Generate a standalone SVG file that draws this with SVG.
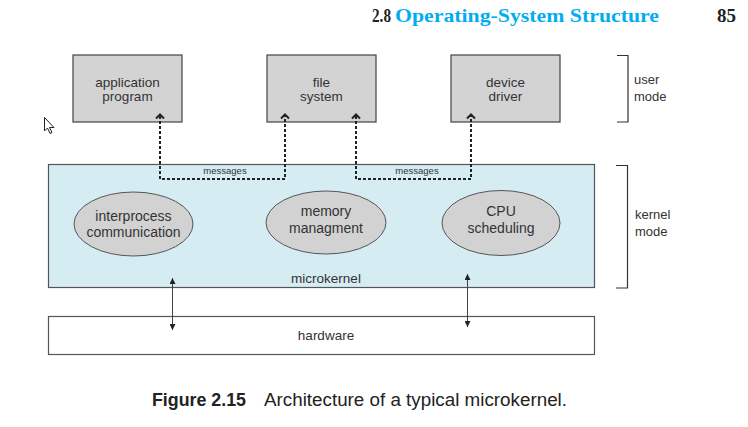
<svg xmlns="http://www.w3.org/2000/svg" width="748" height="427" viewBox="0 0 748 427">
  <defs>
    <style>
      .hdr { font-family: "Liberation Serif", "Times New Roman", serif; font-weight: bold; font-size: 19px; }
      .lbl { font-family: "Liberation Sans", Arial, sans-serif; font-size: 13.5px; fill: #333; text-anchor: middle; }
      .olbl { font-family: "Liberation Sans", Arial, sans-serif; font-size: 14px; fill: #333; text-anchor: middle; }
      .small { font-family: "Liberation Sans", Arial, sans-serif; font-size: 9.5px; fill: #333; text-anchor: middle; }
      .side { font-family: "Liberation Sans", Arial, sans-serif; font-size: 13px; fill: #333; }
      .box { fill: #d3d3d3; stroke: #444; stroke-width: 1.2; }
      .oval { fill: #d2d2d2; stroke: #555; stroke-width: 1; }
      .msg { fill: none; stroke: #222; stroke-width: 2; stroke-dasharray: 3 2; }
      .chev { fill: none; stroke: #222; stroke-width: 2; }
      .bus { stroke: #444; stroke-width: 1; }
      .bracket { fill: none; stroke: #333; stroke-width: 1.2; }
    </style>
    <marker id="tri" viewBox="0 0 10 10" refX="10" refY="5" markerWidth="8" markerHeight="6" markerUnits="userSpaceOnUse" orient="auto-start-reverse">
      <path d="M0,0 L10,5 L0,10 z" fill="#222"/>
    </marker>
  </defs>

  <rect width="748" height="427" fill="#fff"/>

  <!-- running head -->
  <text class="hdr" x="372" y="22" fill="#222" textLength="19" lengthAdjust="spacingAndGlyphs">2.8</text>
  <text class="hdr" x="395" y="22" fill="#00aeef" textLength="264" lengthAdjust="spacingAndGlyphs">Operating-System Structure</text>
  <text class="hdr" x="717" y="22" fill="#222" textLength="19" lengthAdjust="spacingAndGlyphs">85</text>

  <!-- pointer -->
  <path d="M44.5,117.5 L44.5,131 L47.5,128 L50,133.5 L52,132.5 L49.5,127.5 L54,127.5 Z" fill="#fff" stroke="#222" stroke-width="1"/>

  <!-- user-space servers -->
  <g id="app-program">
    <rect class="box" x="73" y="55" width="109" height="67"/>
    <text class="lbl" x="127.5" y="86.5">application</text>
    <text class="lbl" x="127.5" y="100.5">program</text>
  </g>
  <g id="file-system">
    <rect class="box" x="267" y="55" width="109" height="67"/>
    <text class="lbl" x="321.5" y="86.5">file</text>
    <text class="lbl" x="321.5" y="100.5">system</text>
  </g>
  <g id="device-driver">
    <rect class="box" x="451" y="55" width="109" height="67"/>
    <text class="lbl" x="505.5" y="86.5">device</text>
    <text class="lbl" x="505.5" y="100.5">driver</text>
  </g>

  <!-- microkernel -->
  <g id="microkernel">
    <rect x="48.5" y="164.5" width="546" height="123" fill="#d5ecf3" stroke="#555" stroke-width="1.2"/>
    <text class="lbl" x="326" y="283">microkernel</text>
  </g>
  <g id="ipc">
    <ellipse class="oval" cx="133.5" cy="224" rx="59.5" ry="32"/>
    <text class="olbl" x="133.5" y="221">interprocess</text>
    <text class="olbl" x="133.5" y="236.5">communication</text>
  </g>
  <g id="memory">
    <ellipse class="oval" cx="326" cy="222.5" rx="60" ry="31.5"/>
    <text class="olbl" x="326" y="216">memory</text>
    <text class="olbl" x="326" y="232.5">managment</text>
  </g>
  <g id="cpu">
    <ellipse class="oval" cx="501" cy="223" rx="59" ry="32.5"/>
    <text class="olbl" x="501" y="216">CPU</text>
    <text class="olbl" x="501" y="232.5">scheduling</text>
  </g>

  <!-- hardware -->
  <g id="hardware">
    <rect x="48.5" y="316.5" width="546" height="38" fill="#fff" stroke="#555" stroke-width="1.2"/>
    <text class="lbl" x="326" y="339.5">hardware</text>
  </g>

  <!-- connectors -->
  <g id="connectors">
    <path class="msg" d="M160,116 V179 H285 V116"/>
    <path class="msg" d="M356,116 V179 H471 V116"/>
    <polyline class="chev" points="156,118.5 160,114.5 164,118.5"/>
    <polyline class="chev" points="281,118.5 285,114.5 289,118.5"/>
    <polyline class="chev" points="352,118.5 356,114.5 360,118.5"/>
    <polyline class="chev" points="467,118.5 471,114.5 475,118.5"/>
    <text class="small" x="225" y="174">messages</text>
    <text class="small" x="417" y="174">messages</text>
    <line class="bus" x1="172.5" y1="278" x2="172.5" y2="330" marker-start="url(#tri)" marker-end="url(#tri)"/>
    <line class="bus" x1="467.5" y1="274" x2="467.5" y2="327" marker-start="url(#tri)" marker-end="url(#tri)"/>
  </g>

  <!-- privilege levels -->
  <g id="user-mode">
    <path class="bracket" d="M617,55.5 H628 V122 H617"/>
    <text class="side" x="634" y="84">user</text>
    <text class="side" x="634" y="101">mode</text>
  </g>
  <g id="kernel-mode">
    <path class="bracket" d="M616,165.5 H627.5 V288 H616"/>
    <text class="side" x="635" y="219">kernel</text>
    <text class="side" x="635" y="236">mode</text>
  </g>

  <!-- caption -->
  <text x="152" y="406" font-family="'Liberation Sans', Arial, sans-serif" font-size="17.5" fill="#222"><tspan font-weight="bold" textLength="94" lengthAdjust="spacingAndGlyphs">Figure 2.15</tspan><tspan x="264" textLength="303" lengthAdjust="spacingAndGlyphs">Architecture of a typical microkernel.</tspan></text>
</svg>
